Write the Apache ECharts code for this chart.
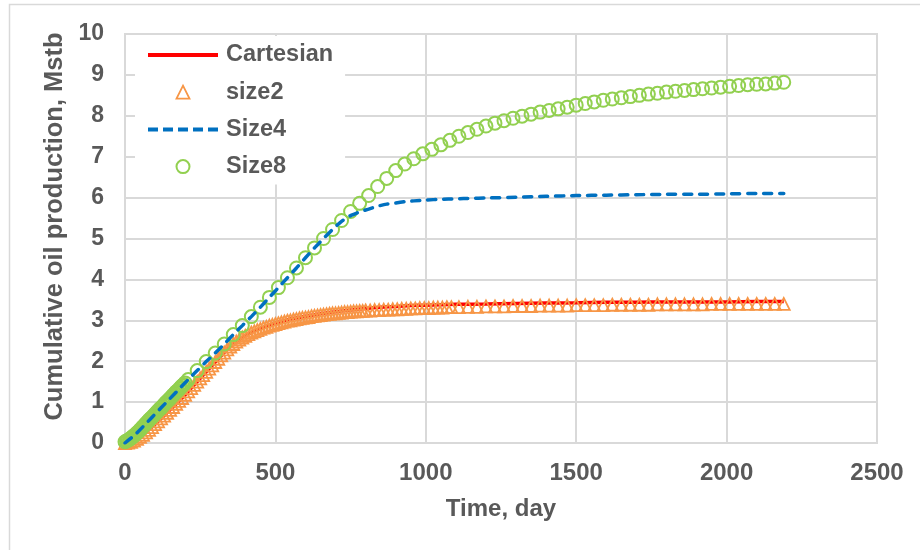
<!DOCTYPE html>
<html>
<head>
<meta charset="utf-8">
<script src="https://cdn.jsdelivr.net/npm/echarts@6/dist/echarts.min.js"></script>
<style>
  html, body { margin: 0; padding: 0; background: #ffffff; }
  #chart { width: 920px; height: 550px; }
</style>
</head>
<body>
<div id="chart"></div>
<script>
// Cumulative oil production vs. time for four grid refinements.

const xTicks = [0, 500, 1000, 1500, 2000, 2500];
const yTicks = [0, 1, 2, 3, 4, 5, 6, 7, 8, 9, 10];

// Cartesian reference solution (solid red line)
const cartesianDays = [0, 50, 100, 150, 200, 250, 300, 350, 400, 450, 500, 550, 600, 650, 700, 750, 800,
  850, 900, 950, 1000, 1100, 1200, 1300, 1400, 1500, 1600, 1700, 1800, 1900, 2000, 2100, 2190];
const cartesianValues = [0.00, 0.15, 0.46, 0.81, 1.18, 1.58, 1.98, 2.36, 2.62, 2.80, 2.93, 3.03, 3.10, 3.16, 3.21, 3.25, 3.29,
  3.32, 3.34, 3.36, 3.37, 3.39, 3.40, 3.41, 3.42, 3.43, 3.44, 3.44, 3.45, 3.45, 3.45, 3.46, 3.46];

// size2 (open orange triangles)
const size2Days = [
  0, 10, 20, 30, 40, 50, 60, 70, 80, 90, 100, 110, 120, 130, 140, 150, 160, 170, 180, 190,
  200, 210, 220, 230, 240, 250, 260, 270, 280, 290, 300, 310, 320, 330, 340, 350, 360, 370, 380, 390,
  400, 410, 420, 430, 440, 450, 460, 470, 480, 490, 500, 510, 520, 530, 540, 550, 560, 570, 580, 590,
  600, 610, 620, 630, 640, 650, 660, 670, 680, 690, 700, 710, 720, 730, 740, 750, 760, 770, 780, 790, 800,
  815, 830, 845, 860, 875, 890, 905, 920, 935, 950, 965, 980, 995, 1010, 1025, 1040, 1055, 1070, 1085,
  1110, 1140, 1170, 1200, 1230, 1260, 1290, 1320, 1350, 1380, 1410, 1440, 1470, 1500, 1530, 1560, 1590,
  1620, 1650, 1680, 1710, 1740, 1770, 1800, 1830, 1860, 1890, 1920, 1950, 1980, 2010, 2040, 2070, 2100,
  2130, 2160, 2190];
const size2Values = [
  0.00, 0.01, 0.03, 0.06, 0.10, 0.15, 0.20, 0.26, 0.32, 0.39, 0.46, 0.53, 0.60, 0.67, 0.74, 0.81, 0.88, 0.96, 1.03, 1.10,
  1.18, 1.26, 1.34, 1.42, 1.50, 1.58, 1.66, 1.74, 1.82, 1.90, 1.98, 2.06, 2.14, 2.21, 2.29, 2.36, 2.42, 2.48, 2.53, 2.58,
  2.62, 2.66, 2.70, 2.73, 2.76, 2.79, 2.82, 2.84, 2.87, 2.89, 2.91, 2.93, 2.95, 2.97, 2.99, 3.00, 3.02, 3.03, 3.05, 3.06,
  3.07, 3.08, 3.10, 3.11, 3.12, 3.13, 3.14, 3.15, 3.16, 3.17, 3.17, 3.18, 3.19, 3.20, 3.20, 3.21, 3.22, 3.22, 3.23, 3.23, 3.24,
  3.24, 3.25, 3.25, 3.26, 3.26, 3.27, 3.27, 3.28, 3.28, 3.29, 3.29, 3.30, 3.30, 3.30, 3.31, 3.31, 3.31, 3.32, 3.32,
  3.32, 3.33, 3.33, 3.34, 3.34, 3.34, 3.35, 3.35, 3.35, 3.36, 3.36, 3.36, 3.36, 3.37, 3.37, 3.37, 3.37,
  3.38, 3.38, 3.38, 3.38, 3.38, 3.39, 3.39, 3.39, 3.39, 3.39, 3.39, 3.40, 3.40, 3.40, 3.40, 3.40, 3.40,
  3.40, 3.40, 3.40];

// Size4 (dashed blue line)
const size4Days = [0, 30, 60, 90, 120, 150, 180, 210, 240, 270, 300, 330, 360, 390, 420, 450, 480, 510, 540,
  570, 600, 630, 660, 690, 720, 750, 780, 810, 840, 870, 900, 930, 960, 1000, 1050, 1100, 1150, 1200,
  1300, 1400, 1500, 1600, 1700, 1800, 1900, 2000, 2100, 2190];
const size4Values = [0.00, 0.18, 0.40, 0.63, 0.86, 1.09, 1.32, 1.55, 1.77, 1.99, 2.20, 2.42, 2.65, 2.87, 3.09, 3.32, 3.56, 3.80, 4.04,
  4.28, 4.53, 4.77, 5.00, 5.22, 5.42, 5.56, 5.65, 5.72, 5.79, 5.84, 5.87, 5.90, 5.92, 5.94, 5.96, 5.97, 5.98, 5.99,
  6.01, 6.03, 6.05, 6.06, 6.07, 6.08, 6.08, 6.09, 6.10, 6.10];

// Size8 (open green circles)
const size8Days = [
  0, 5, 10, 15, 20, 25, 30, 35, 40, 45, 50, 55, 60, 65, 70, 75, 80, 85, 90, 95, 100,
  105, 110, 115, 120, 125, 130, 135, 140, 145, 150, 155, 160, 165, 170, 175, 180, 185, 190, 195, 200,
  210, 240, 270, 300, 330, 360, 390, 420, 450, 480, 510, 540, 570, 600, 630, 660, 690, 720, 750, 780,
  810, 840, 870, 900, 930, 960, 990, 1020, 1050, 1080, 1110, 1140, 1170, 1200, 1230, 1260, 1290, 1320,
  1350, 1380, 1410, 1440, 1470, 1500, 1530, 1560, 1590, 1620, 1650, 1680, 1710, 1740, 1770, 1800, 1830,
  1860, 1890, 1920, 1950, 1980, 2010, 2040, 2070, 2100, 2130, 2160, 2190];
const size8Values = [
  0.03, 0.05, 0.07, 0.09, 0.12, 0.15, 0.18, 0.21, 0.25, 0.28, 0.32, 0.36, 0.40, 0.44, 0.48, 0.52, 0.56, 0.60, 0.63, 0.67, 0.71,
  0.75, 0.79, 0.83, 0.86, 0.90, 0.94, 0.98, 1.02, 1.05, 1.09, 1.13, 1.17, 1.21, 1.25, 1.28, 1.32, 1.36, 1.40, 1.43, 1.47,
  1.55, 1.77, 1.99, 2.20, 2.42, 2.65, 2.87, 3.09, 3.32, 3.56, 3.80, 4.04, 4.28, 4.53, 4.77, 5.00, 5.22, 5.44, 5.66, 5.86,
  6.05, 6.27, 6.47, 6.66, 6.82, 6.95, 7.07, 7.18, 7.29, 7.40, 7.50, 7.59, 7.67, 7.75, 7.82, 7.88, 7.94, 7.99,
  8.04, 8.09, 8.13, 8.17, 8.21, 8.26, 8.30, 8.34, 8.38, 8.41, 8.44, 8.47, 8.50, 8.53, 8.55, 8.58, 8.60,
  8.62, 8.64, 8.66, 8.68, 8.70, 8.72, 8.74, 8.76, 8.77, 8.78, 8.80, 8.82];

const FONT = '"Liberation Sans", Arial, Helvetica, sans-serif';
const TEXT_COLOR = '#595959';
const GRID_COLOR = '#d9d9d9';
const RED = '#ff0000';
const ORANGE = '#f79646';
const BLUE = '#0070c0';
const GREEN = '#92d050';

// Legend samples: solid bar, open triangle, row of dashes
const SOLID_ICON = 'path://M0,0H70V4H0Z';
const TRIANGLE_ICON = 'path://M6,0L12,12L0,12Z';
const DASH_ICON = 'path://M0,0H10V4H0Z M15,0H25V4H15Z M30,0H40V4H30Z M45,0H55V4H45Z M60,0H70V4H60Z';

const pairs = (xs, ys) => xs.map((x, i) => [x, ys[i]]);
const labelStyle = { color: TEXT_COLOR, fontFamily: FONT, fontWeight: 'bold', fontSize: 23 };

const chart = echarts.init(document.getElementById('chart'), null, { renderer: 'canvas' });

chart.setOption({
  animation: false,
  backgroundColor: '#ffffff',
  graphic: [{
    type: 'rect',
    silent: true,
    z: -10,
    shape: { x: 9.5, y: 4.5, width: 1000, height: 1000 },
    style: { fill: 'none', stroke: GRID_COLOR, lineWidth: 1.5 }
  }],
  grid: {
    left: 125, right: 43, top: 34, bottom: 107,
    show: true, borderColor: GRID_COLOR, borderWidth: 2, backgroundColor: 'transparent'
  },
  legend: {
    orient: 'vertical',
    left: 135, top: 36,
    padding: [7, 12, 6, 13],
    backgroundColor: '#ffffff',
    itemWidth: 70, itemHeight: 13, itemGap: 13.2,
    symbolKeepAspect: true,
    textStyle: Object.assign({}, labelStyle, { fontSize: 23.5, padding: [0, 0, 0, 3] }),
    data: [
      { name: 'Cartesian', icon: SOLID_ICON, itemStyle: { color: RED, borderWidth: 0 } },
      { name: 'size2', icon: TRIANGLE_ICON, itemStyle: { color: 'rgba(0,0,0,0)', borderColor: ORANGE, borderWidth: 1.8 } },
      { name: 'Size4', icon: DASH_ICON, itemStyle: { color: BLUE, borderWidth: 0 } },
      { name: 'Size8', icon: 'circle', itemStyle: { color: 'rgba(0,0,0,0)', borderColor: GREEN, borderWidth: 2 } }
    ]
  },
  xAxis: {
    type: 'value',
    min: xTicks[0], max: xTicks[xTicks.length - 1], interval: xTicks[1] - xTicks[0],
    name: 'Time, day', nameLocation: 'middle', nameGap: 54,
    nameTextStyle: Object.assign({}, labelStyle, { fontSize: 24 }),
    axisLine: { show: false }, axisTick: { show: false },
    axisLabel: Object.assign({ margin: 18, formatter: (v) => String(v) }, labelStyle, { fontSize: 24 }),
    splitLine: { show: true, lineStyle: { color: GRID_COLOR, width: 2 } }
  },
  yAxis: {
    type: 'value',
    min: yTicks[0], max: yTicks[yTicks.length - 1], interval: yTicks[1] - yTicks[0],
    name: 'Cumulative oil production, Mstb', nameLocation: 'middle', nameGap: 51,
    nameTextStyle: Object.assign({}, labelStyle, { fontSize: 25.5, padding: [0, 0, 0, 24] }),
    axisLine: { show: false }, axisTick: { show: false },
    axisLabel: Object.assign({ margin: 21, formatter: (v) => String(v) }, labelStyle),
    splitLine: { show: true, lineStyle: { color: GRID_COLOR, width: 2 } }
  },
  series: [
    {
      name: 'Cartesian', type: 'line', z: 2,
      data: pairs(cartesianDays, cartesianValues),
      symbol: 'none', smooth: 0.2,
      lineStyle: { color: RED, width: 3.5 },
      itemStyle: { color: RED }
    },
    {
      name: 'size2', type: 'scatter', z: 3,
      data: pairs(size2Days, size2Values),
      symbol: 'triangle', symbolSize: 12,
      itemStyle: { color: 'rgba(0,0,0,0)', borderColor: ORANGE, borderWidth: 1.8, opacity: 1 }
    },
    {
      name: 'Size8', type: 'scatter', z: 4,
      data: pairs(size8Days, size8Values),
      symbol: 'circle', symbolSize: 13,
      itemStyle: { color: 'rgba(0,0,0,0)', borderColor: GREEN, borderWidth: 2, opacity: 1 }
    },
    {
      name: 'Size4', type: 'line', z: 5,
      data: pairs(size4Days, size4Values),
      symbol: 'none', smooth: 0.2,
      lineStyle: { color: BLUE, width: 3.5, type: [8, 8], cap: 'round' },
      itemStyle: { color: BLUE }
    }
  ]
});
</script>
</body>
</html>
